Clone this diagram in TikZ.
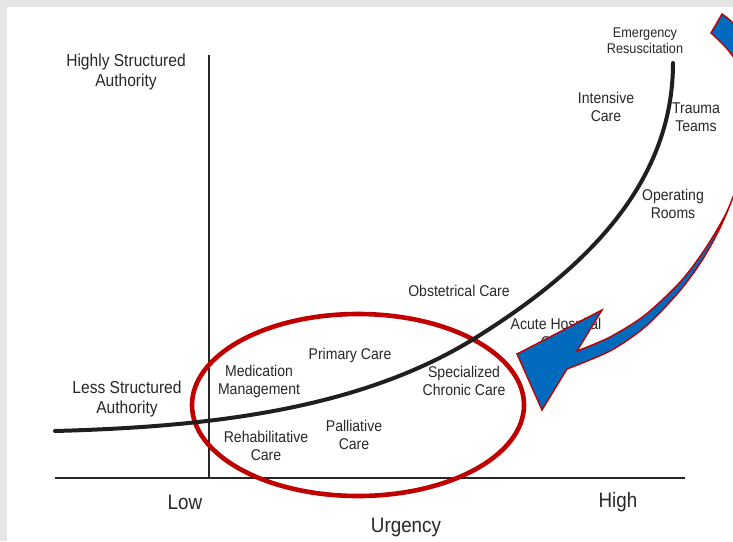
\documentclass[tikz,border=0pt]{standalone}
\usepackage{fontspec}
\setmainfont{Liberation Sans}[FakeStretch=0.9]
\usepackage{xcolor}
\usepackage{tikz}
\usetikzlibrary{positioning}
\definecolor{panelgray}{RGB}{230, 230, 230}
\definecolor{labelgray}{RGB}{40, 40, 40}
\definecolor{ringred}{RGB}{192, 0, 0}
\definecolor{shiftblue}{RGB}{0, 107, 189}

\begin{document}
\begin{tikzpicture}[
    x=1pt, y=-1pt,
    lbl/.style={align=center, text=labelgray, inner sep=0pt, font=\fontsize{15.6}{18}\selectfont},
    axislbl/.style={align=center, text=labelgray, inner sep=0pt, font=\fontsize{17.3}{20}\selectfont},
    ticklbl/.style={text=labelgray, inner sep=0pt, font=\fontsize{20.9}{24}\selectfont},
    axisline/.style={line width=2pt, draw=black!85},
    trend/.style={line width=4pt, draw=black!88, line cap=round},
    ring/.style={line width=4.6pt, draw=ringred},
    shiftarrow/.style={fill=shiftblue, draw=ringred, line width=1.4pt}
]

% Frame
\fill[panelgray] (0,0) rectangle (733,541);
\fill[white] (7,7) rectangle (733,541);
\useasboundingbox (0,0) rectangle (733,541);

% Axes
\coordinate (yTop) at (209,55);
\coordinate (origin) at (209,478);
\coordinate (xLeft) at (55,478);
\coordinate (xRight) at (685,478);
\draw[axisline] (yTop) -- (origin);
\draw[axisline] (xLeft) -- (xRight);

% Community care ring
\draw[ring] (358,405) ellipse [x radius=166pt, y radius=91pt];

% Authority vs urgency curve
\coordinate (trendStart) at (55,431);
\coordinate (trendMid) at (480,335);
\coordinate (trendEnd) at (673,63);
\draw[trend] (trendStart) .. controls (200,427) and (360,412) .. (trendMid)
    .. controls (575,275) and (673,190) .. (trendEnd);

% Axis labels
\node[axislbl] (hiAuth) at (126,72) {Highly Structured\\Authority};
\node[axislbl] (loAuth) at (127,399) {Less Structured\\Authority};
\node[ticklbl] (low) at (185,502) {Low};
\node[ticklbl] (high) at (618,502) {High};
\node[ticklbl] (urgency) at (406,527) {Urgency};

% Hospital settings
\node[lbl, font=\fontsize{14.1}{16}\selectfont] (emerg) at (645,41) {Emergency\\Resuscitation};
\node[lbl] (icu) at (606,107) {Intensive\\Care};
\node[lbl] (trauma) at (696,117) {Trauma\\Teams};
\node[lbl] (orooms) at (673,204) {Operating\\Rooms};
\node[lbl] (obst) at (459,291) {Obstetrical Care};
\node[lbl] (acute) at (556,333) {Acute Hospital\\Care};

% Community settings
\node[lbl] (primary) at (350,355) {Primary Care};
\node[lbl] (medic) at (259,381) {Medication\\Management};
\node[lbl] (chronic) at (464,381) {Specialized\\Chronic Care};
\node[lbl] (rehab) at (266,446) {Rehabilitative\\Care};
\node[lbl] (palli) at (354,435) {Palliative\\Care};

% Shift arrow, partly off the frame
\begin{scope}
\clip (7,7) rectangle (733,541);
\filldraw[shiftarrow] plot[smooth] coordinates {(711,33) (735,60) (748,110) (744,160) (729,207) (707,246) (681,281) (645,315) (610,337) (577,351)}
    -- (602,310) -- (517,354) -- (542,410)
    -- plot[smooth] coordinates {(567,369) (610,351) (645,327) (678,293) (701,262) (720,228) (737,186) (752,130) (752,75) (738,30) (722,14)}
    -- cycle;
\end{scope}

\end{tikzpicture}
\end{document}
